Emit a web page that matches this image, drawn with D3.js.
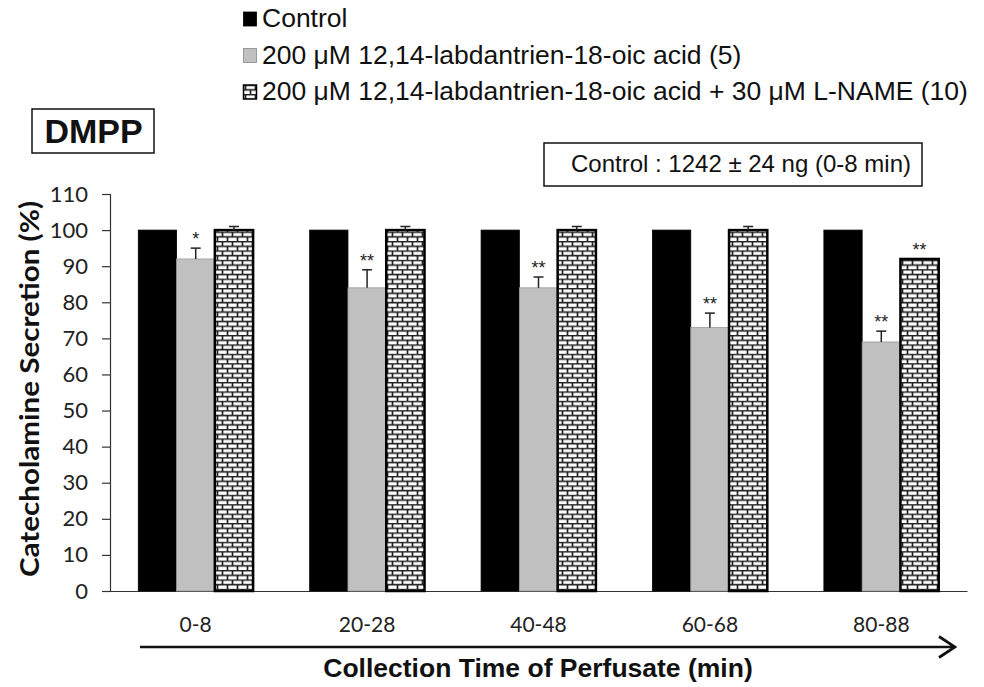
<!DOCTYPE html>
<html>
<head>
<meta charset="utf-8">
<script src="https://cdn.jsdelivr.net/npm/d3@7"></script>
<style>
  body { margin: 0; background: #fff; }
  svg { display: block; }
</style>
</head>
<body>
<div id="chart"></div>
<script>
var svgWidth = 984;
var svgHeight = 687;

// data
var periods = ["0-8", "20-28", "40-48", "60-68", "80-88"];
var seriesNames = [
  "Control",
  "200 \u03bcM 12,14-labdantrien-18-oic acid (5)",
  "200 \u03bcM 12,14-labdantrien-18-oic acid + 30 \u03bcM L-NAME (10)"
];
var controlVals = [100, 100, 100, 100, 100];
var labdVals = [92, 84, 84, 73, 69];
var labdErr = [3, 5, 3, 4, 3];
var labdSig = ["*", "**", "**", "**", "**"];
var nameVals = [100, 100, 100, 100, 92];
var nameErr = [1, 1, 1, 1, 0];
var nameSig = ["", "", "", "", "**"];
var yTicks = [0, 10, 20, 30, 40, 50, 60, 70, 80, 90, 100, 110];

var margin = { top: 194, right: 17, bottom: 96, left: 110 };
var width = svgWidth - margin.left - margin.right;
var height = svgHeight - margin.top - margin.bottom;

var svg = d3.select("#chart").append("svg")
  .attr("width", svgWidth)
  .attr("height", svgHeight);

// brick pattern for the L-NAME series
var defs = svg.append("defs");
var pat = defs.append("pattern")
  .attr("id", "brick")
  .attr("patternUnits", "userSpaceOnUse")
  .attr("width", 10)
  .attr("height", 9.4);
pat.append("rect").attr("width", 10).attr("height", 9.4).attr("fill", "#fff");
pat.append("path")
  .attr("d", "M0,0.6H10M0,5.3H10M2.5,0.6V5.3M7.5,5.3V9.4")
  .attr("stroke", "#222")
  .attr("stroke-width", 1.7)
  .attr("fill", "none");

var chartGroup = svg.append("g")
  .attr("transform", `translate(${margin.left}, ${margin.top})`);

var x0 = d3.scaleBand().domain(periods).range([0, width]).paddingInner(0.33).paddingOuter(0.165);
var x1 = d3.scaleBand().domain([0, 1, 2]).range([0, x0.bandwidth()]);
var y = d3.scaleLinear().domain([0, 110]).range([height, 0]);

// y axis
var leftAxis = d3.axisLeft(y).tickValues(yTicks).tickSize(8).tickPadding(14);
var yAxis = chartGroup.append("g").call(leftAxis);
yAxis.select(".domain").attr("stroke", "#333").attr("stroke-width", 1.2);
yAxis.selectAll(".tick line").attr("stroke", "#333").attr("stroke-width", 1.2);
yAxis.selectAll("text")
  .attr("font-family", "Lato, 'Open Sans', sans-serif")
  .attr("font-size", 22)
  .attr("fill", "#222");

// x axis
var bottomAxis = d3.axisBottom(x0).tickSize(0).tickPadding(26);
var xAxis = chartGroup.append("g")
  .attr("transform", `translate(0, ${height})`)
  .call(bottomAxis);
xAxis.select(".domain").attr("stroke", "#333").attr("stroke-width", 1.2);
xAxis.selectAll("text")
  .attr("font-family", "Lato, 'Open Sans', sans-serif")
  .attr("font-size", 21)
  .attr("fill", "#222");

// bars
var fills = ["#000", "#c0c0c0", "url(#brick)"];
var series = [controlVals, labdVals, nameVals];
series.forEach(function(vals, s) {
  chartGroup.selectAll(".bar" + s)
    .data(vals)
    .enter()
    .append("rect")
    .attr("x", (d, i) => x0(periods[i]) + x1(s))
    .attr("y", d => y(d))
    .attr("width", x1.bandwidth())
    .attr("height", d => height - y(d))
    .attr("fill", fills[s])
    .attr("stroke", s === 1 ? "#999" : "#000")
    .attr("stroke-width", s === 2 ? 2.5 : 0.8);
});

// error bars (upper only)
function errorBars(vals, errs, s) {
  var cap = 5;
  vals.forEach(function(v, i) {
    if (!errs[i]) return;
    var cx = x0(periods[i]) + x1(s) + x1.bandwidth() / 2;
    chartGroup.append("line")
      .attr("x1", cx).attr("x2", cx)
      .attr("y1", y(v)).attr("y2", y(v + errs[i]))
      .attr("stroke", "#222").attr("stroke-width", 1.5);
    chartGroup.append("line")
      .attr("x1", cx - cap).attr("x2", cx + cap)
      .attr("y1", y(v + errs[i])).attr("y2", y(v + errs[i]))
      .attr("stroke", "#222").attr("stroke-width", 1.5);
  });
}
errorBars(labdVals, labdErr, 1);
errorBars(nameVals, nameErr, 2);

// significance stars
function stars(vals, errs, sig, s) {
  chartGroup.selectAll(".sig" + s)
    .data(vals)
    .enter()
    .append("text")
    .attr("x", (d, i) => x0(periods[i]) + x1(s) + x1.bandwidth() / 2)
    .attr("y", (d, i) => y(d + errs[i]) - 3)
    .attr("text-anchor", "middle")
    .attr("font-family", "Arial, 'Liberation Sans', sans-serif")
    .attr("font-size", 18)
    .attr("fill", "#222")
    .text((d, i) => sig[i]);
}
stars(labdVals, labdErr, labdSig, 1);
stars(nameVals, nameErr, nameSig, 2);

// y label
svg.append("text")
  .attr("transform", "translate(39, 389) rotate(-90)")
  .attr("text-anchor", "middle")
  .attr("font-family", "Lato, 'Open Sans', sans-serif")
  .attr("font-weight", "bold")
  .attr("font-size", 27)
  .attr("textLength", 376)
  .attr("lengthAdjust", "spacingAndGlyphs")
  .attr("fill", "#111")
  .text("Catecholamine Secretion (%)");

// arrow under x axis
defs.append("marker")
  .attr("id", "arrow")
  .attr("viewBox", "0 0 19 24")
  .attr("refX", 17.5)
  .attr("refY", 12)
  .attr("markerWidth", 19)
  .attr("markerHeight", 24)
  .attr("markerUnits", "userSpaceOnUse")
  .attr("orient", "auto")
  .append("path")
  .attr("d", "M1.5,1.5L17.5,12L1.5,22.5")
  .attr("fill", "none")
  .attr("stroke", "#111")
  .attr("stroke-width", 2.8);
svg.append("line")
  .attr("x1", 140).attr("x2", 955)
  .attr("y1", 647).attr("y2", 647)
  .attr("stroke", "#111")
  .attr("stroke-width", 2.5)
  .attr("marker-end", "url(#arrow)");

// x title
svg.append("text")
  .attr("x", 538)
  .attr("y", 677)
  .attr("text-anchor", "middle")
  .attr("font-family", "Arial, 'Liberation Sans', sans-serif")
  .attr("font-weight", "bold")
  .attr("font-size", 26.5)
  .attr("fill", "#111")
  .text("Collection Time of Perfusate (min)");

// legend
var legend = svg.append("g").attr("transform", "translate(243, 0)");
seriesNames.forEach(function(name, i) {
  var base = 27 + i * 36.5;
  var row = legend.append("g");
  row.append("rect")
    .attr("x", 0.5).attr("y", base - 15)
    .attr("width", 13).attr("height", 14)
    .attr("fill", fills[i])
    .attr("stroke", i === 1 ? "#888" : "#000")
    .attr("stroke-width", i === 2 ? 1.5 : 0.8);
  row.append("text")
    .attr("x", 19)
    .attr("y", base)
    .attr("font-family", "Arial, 'Liberation Sans', sans-serif")
    .attr("font-size", 26.5)
    .attr("fill", "#111")
    .text(name);
});

// DMPP box
svg.append("rect")
  .attr("x", 32).attr("y", 109)
  .attr("width", 122).attr("height", 44)
  .attr("fill", "#fff").attr("stroke", "#111").attr("stroke-width", 1.5);
svg.append("text")
  .attr("x", 93.5).attr("y", 143)
  .attr("text-anchor", "middle")
  .attr("font-family", "Arial, 'Liberation Sans', sans-serif")
  .attr("font-weight", "bold")
  .attr("font-size", 34)
  .attr("fill", "#111")
  .text("DMPP");

// control note box
svg.append("rect")
  .attr("x", 544).attr("y", 143)
  .attr("width", 378).attr("height", 43)
  .attr("fill", "#fff").attr("stroke", "#111").attr("stroke-width", 1.5);
svg.append("text")
  .attr("x", 741).attr("y", 172)
  .attr("text-anchor", "middle")
  .attr("font-family", "Arial, 'Liberation Sans', sans-serif")
  .attr("font-size", 24)
  .attr("fill", "#111")
  .text("Control : 1242 \u00b1 24 ng (0-8 min)");
</script>
</body>
</html>
